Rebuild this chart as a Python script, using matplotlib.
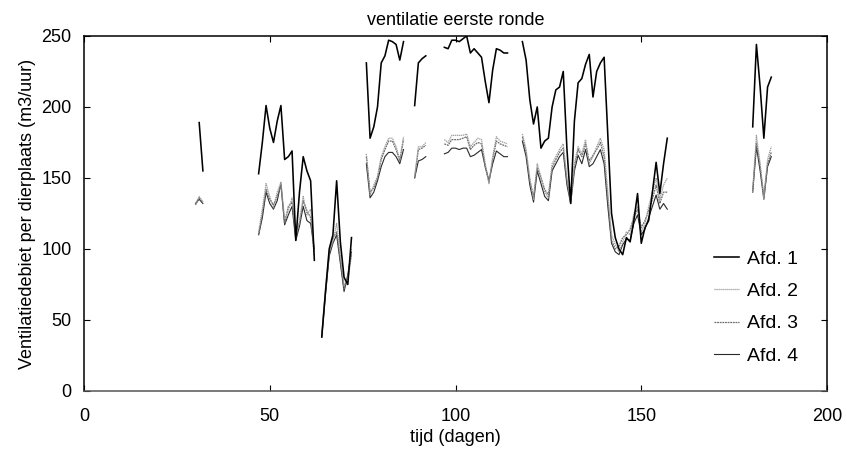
import numpy as np
import matplotlib
matplotlib.use("Agg")
import matplotlib.pyplot as plt

plt.rcParams['font.family'] = ['Liberation Sans', 'DejaVu Sans']

# segment start days (daily data, gaps between segments)
seg_start = [30, 47, 64, 76, 89, 97, 118, 180]

afd1_segs = [
    [np.nan, 189, 155],
    [153, 175, 201, 185, 175, 190, 201, 163, 165, 169, 106, 140, 165, 155, 148, 92],
    [38, 70, 100, 110, 148, 105, 80, 75, 108],
    [231, 178, 186, 200, 231, 236, 247, 246, 244, 233, 246],
    [201, 231, 234, 236],
    [242, 241, 247, 247, 246, 248, 250, 238, 241, 238, 235, 218, 203, 226, 241, 240, 238, 238],
    [246, 233, 205, 188, 200, 171, 176, 178, 200, 212, 214, 225, 170, 132, 190, 217, 220, 230, 237, 207,
     225, 231, 235, 180, 125, 108, 100, 96, 108, 105, 120, 139, 104, 115, 120, 140, 161, 139, 160, 178],
    [186, 244, 214, 178, 214, 221],
]
afd2_segs = [
    [132, 137, 133],
    [112, 128, 146, 137, 129, 140, 147, 121, 127, 136, 108, 120, 137, 124, 128, 98],
    [40, 72, 98, 105, 118, 95, 74, 80, 100],
    [167, 138, 145, 151, 165, 172, 178, 178, 172, 163, 179],
    [151, 172, 172, 175],
    [177, 175, 180, 180, 180, 180, 181, 172, 175, 178, 177, 160, 146, 165, 179, 176, 175, 174],
    [181, 170, 150, 135, 160, 151, 140, 136, 160, 165, 170, 174, 150, 132, 160, 172, 167, 177, 160, 165,
     172, 178, 170, 140, 110, 103, 98, 105, 112, 110, 125, 130, 112, 118, 130, 140, 150, 135, 145, 150],
    [140, 180, 160, 135, 163, 172],
]
afd3_segs = [
    [131, 136, 133],
    [110, 125, 142, 135, 131, 137, 145, 118, 130, 133, 112, 118, 134, 127, 122, 95],
    [40, 70, 96, 108, 112, 92, 72, 78, 96],
    [165, 140, 143, 150, 163, 170, 176, 176, 170, 162, 177],
    [150, 170, 171, 173],
    [174, 173, 177, 177, 177, 178, 179, 170, 173, 175, 174, 158, 147, 163, 176, 174, 173, 172],
    [179, 168, 148, 137, 157, 150, 142, 138, 157, 163, 168, 171, 148, 135, 158, 170, 165, 174, 162, 166,
     170, 175, 165, 135, 106, 100, 102, 108, 110, 114, 122, 128, 115, 120, 127, 135, 145, 132, 140, 140],
    [142, 175, 158, 137, 160, 168],
]
afd4_segs = [
    [132, 135, 132],
    [110, 122, 140, 132, 128, 134, 146, 117, 124, 130, 106, 116, 130, 120, 118, 100],
    [38, 68, 95, 104, 110, 90, 70, 82, 98],
    [160, 136, 140, 148, 158, 165, 168, 168, 165, 160, 170],
    [150, 162, 163, 165],
    [167, 168, 171, 171, 170, 171, 171, 165, 166, 168, 170, 158, 148, 160, 169, 167, 165, 165],
    [176, 165, 145, 133, 155, 146, 137, 134, 155, 160, 165, 168, 145, 132, 155, 166, 160, 170, 158, 160,
     165, 170, 160, 130, 104, 98, 96, 103, 107, 106, 118, 124, 110, 114, 122, 130, 138, 128, 132, 128],
    [140, 172, 155, 135, 158, 165],
]

labels = ['Afd. 1', 'Afd. 2', 'Afd. 3', 'Afd. 4']
x_ticks = [0, 50, 100, 150, 200]
y_ticks = [0, 50, 100, 150, 200, 250]


def build(segs):
    xs, ys = [], []
    for s, vals in zip(seg_start, segs):
        xs.extend(range(s, s + len(vals)))
        ys.extend(vals)
        xs.append(np.nan)
        ys.append(np.nan)
    return np.array(xs, dtype=float), np.array(ys, dtype=float)


fig = plt.figure(figsize=(8.47, 4.55), dpi=100)
ax = fig.add_axes([0.0992, 0.1407, 0.8772, 0.7803])

styles = [
    dict(color='black', lw=1.15, ls='-'),
    dict(color='#9a9a9a', lw=0.9, ls=(0, (1, 0.6))),
    dict(color='#6e6e6e', lw=0.9, ls=(0, (1.5, 0.6))),
    dict(color='#2a2a2a', lw=0.8, ls='-'),
]
order = [3, 2, 1, 0]
all_segs = [afd1_segs, afd2_segs, afd3_segs, afd4_segs]
handles = [None] * 4
for i in order:
    x, y = build(all_segs[i])
    handles[i], = ax.plot(x, y, label=labels[i], **styles[i])

ax.set_xlim(0, 200)
ax.set_ylim(0, 250)
ax.set_xticks(x_ticks)
ax.set_yticks(y_ticks)
ax.tick_params(direction='in', top=True, right=True, length=4, width=0.8,
               labelsize=13)
ax.tick_params(axis='y', pad=9)
ax.tick_params(axis='x', pad=12)
for sp in ax.spines.values():
    sp.set_linewidth(1.1)
ax.spines['bottom'].set_color('#555555')

ax.set_title('ventilatie eerste ronde', fontsize=13, pad=8)
ax.set_xlabel('tijd (dagen)', fontsize=13, labelpad=3)
ax.set_ylabel('Ventilatiedebiet per dierplaats (m3/uur)', fontsize=13, labelpad=4)

ax.legend(handles=handles, labels=labels, loc='lower right', frameon=False,
          fontsize=14, handlelength=1.3, handletextpad=0.4, labelspacing=0.755,
          bbox_to_anchor=(0.985, 0.025))

fig.savefig('out.png', dpi=100)
